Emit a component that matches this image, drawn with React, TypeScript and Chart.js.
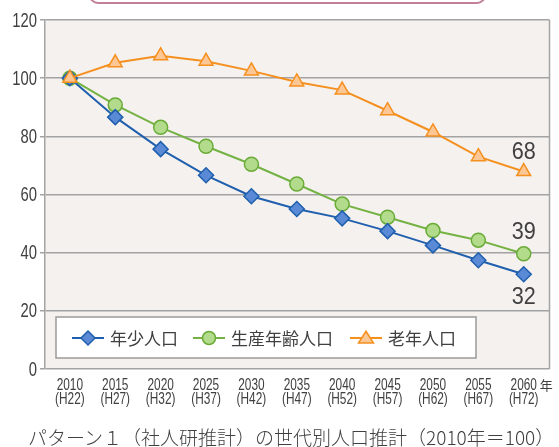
import React, { useEffect, useRef } from "react";
import { Chart, registerables } from "chart.js";

Chart.register(...registerables);

const years = [2010, 2015, 2020, 2025, 2030, 2035, 2040, 2045, 2050, 2055, 2060];
const eraLabels = ["(H22)", "(H27)", "(H32)", "(H37)", "(H42)", "(H47)", "(H52)", "(H57)", "(H62)", "(H67)", "(H72)"];
const youth = [100, 86.6, 75.6, 66.6, 59.4, 55.0, 51.8, 47.4, 42.5, 37.4, 32.6];
const working = [100, 90.8, 83.1, 76.6, 70.4, 63.6, 56.7, 52.2, 47.6, 44.3, 39.6];
const elderly = [100, 105.3, 107.7, 105.8, 102.5, 98.7, 95.9, 88.8, 81.5, 73.0, 67.9];
const yTicks = [0, 20, 40, 60, 80, 100, 120];
const seriesNames = ["年少人口", "生産年齢人口", "老年人口"];
const endLabels = ["32", "39", "68"];
const caption = "パターン１（社人研推計）の世代別人口推計（2010年＝100）";

const SANS = "'Liberation Sans', Arial, sans-serif";
const CJK = "'Noto Sans CJK JP', 'Noto Sans', sans-serif";
const TEXT = "#404040";

const COLORS = [
  { line: "#1f5fad", fill: "#5a8ad6", border: "#1f5fad", style: "rectRot", r: 7.5 },
  { line: "#74b243", fill: "#b3db8c", border: "#6aab38", style: "circle", r: 7 },
  { line: "#f5901f", fill: "#fcc795", border: "#f5901f", style: "triangle", r: 8 },
];

function narrowText(ctx: CanvasRenderingContext2D, text: string, x: number, y: number, size: number, sx: number, align: CanvasTextAlign) {
  ctx.save();
  ctx.translate(x, y);
  ctx.scale(sx, 1);
  ctx.font = `${size}px ${SANS}`;
  ctx.textAlign = align;
  ctx.textBaseline = "middle";
  ctx.fillStyle = TEXT;
  ctx.fillText(text, 0, 0);
  ctx.restore();
}

function drawMarker(ctx: CanvasRenderingContext2D, style: string, x: number, y: number, r: number, fill: string, border: string) {
  ctx.save();
  ctx.beginPath();
  if (style === "rectRot") {
    ctx.moveTo(x, y - r);
    ctx.lineTo(x + r, y);
    ctx.lineTo(x, y + r);
    ctx.lineTo(x - r, y);
    ctx.closePath();
  } else if (style === "circle") {
    ctx.arc(x, y, r, 0, Math.PI * 2);
  } else {
    const h = r * 1.5;
    ctx.moveTo(x, y - h * 0.6);
    ctx.lineTo(x + r, y + h * 0.45);
    ctx.lineTo(x - r, y + h * 0.45);
    ctx.closePath();
  }
  ctx.fillStyle = fill;
  ctx.fill();
  ctx.lineWidth = 1.5;
  ctx.strokeStyle = border;
  ctx.stroke();
  ctx.restore();
}

const decorPlugin = {
  id: "decor",
  beforeDraw(chart: any) {
    const { ctx, chartArea: a } = chart;
    ctx.save();
    ctx.fillStyle = "#f4f1ee";
    ctx.fillRect(a.left, a.top, a.right - a.left, a.bottom - a.top);
    ctx.restore();
  },
  beforeDatasetsDraw(chart: any) {
    const { ctx, chartArea: a } = chart;
    ctx.save();
    ctx.strokeStyle = "#a3a3a3";
    ctx.lineWidth = 1.5;
    ctx.beginPath();
    ctx.moveTo(a.right, a.top);
    ctx.lineTo(a.right, a.bottom);
    ctx.stroke();
    ctx.restore();
  },
  afterDatasetsDraw(chart: any) {
    const { ctx, chartArea: a } = chart;
    const xs = chart.scales.x;
    const ys = chart.scales.y;
    ctx.save();
    // y tick labels
    yTicks.forEach((v) => {
      narrowText(ctx, String(v), a.left - 8, ys.getPixelForValue(v) + 1, 20, 0.74, "right");
    });
    // x tick labels
    years.forEach((yr, i) => {
      const px = xs.getPixelForValue(yr);
      narrowText(ctx, String(yr), px, 386, 16, 0.74, "center");
      narrowText(ctx, eraLabels[i], px, 399.5, 16, 0.74, "center");
    });
    // legend box
    const lx = 56, ly = 317, lw = 420, lh = 41;
    ctx.fillStyle = "#ffffff";
    ctx.fillRect(lx, ly, lw, lh);
    ctx.strokeStyle = "#9a9a9a";
    ctx.lineWidth = 1.5;
    ctx.strokeRect(lx, ly, lw, lh);
    const itemX = [72, 193, 350];
    const cy = ly + lh / 2 + 0.5;
    ctx.font = `17px ${CJK}`;
    ctx.textBaseline = "middle";
    ctx.textAlign = "left";
    seriesNames.forEach((name, i) => {
      const c = COLORS[i];
      ctx.strokeStyle = c.line;
      ctx.lineWidth = 2;
      ctx.beginPath();
      ctx.moveTo(itemX[i], cy);
      ctx.lineTo(itemX[i] + 32, cy);
      ctx.stroke();
      drawMarker(ctx, c.style, itemX[i] + 16, cy, c.r - 0.5, c.fill, c.border);
      ctx.fillStyle = TEXT;
      ctx.fillText(name, itemX[i] + 38, cy + 1);
    });
    // end labels
    const last = years[years.length - 1];
    const px = xs.getPixelForValue(last);
    const series = [youth, working, elderly];
    const offsets = [23, -21, -19];
    series.forEach((s, i) => {
      const py = ys.getPixelForValue(s[s.length - 1]);
      narrowText(ctx, endLabels[i], px, py + offsets[i], 24, 0.9, "center");
    });
    // 年 after last x label
    ctx.font = `13px ${CJK}`;
    ctx.textAlign = "left";
    ctx.textBaseline = "middle";
    ctx.fillStyle = TEXT;
    ctx.fillText("年", px + 16, 385);
    ctx.restore();
  },
};

export default function App() {
  const ref = useRef<HTMLCanvasElement>(null);
  useEffect(() => {
    if (!ref.current) return;
    const mk = (data: number[], i: number) => ({
      label: seriesNames[i],
      data: years.map((y, k) => ({ x: y, y: data[k] })),
      borderColor: COLORS[i].line,
      borderWidth: 2,
      pointStyle: COLORS[i].style,
      pointRadius: COLORS[i].r,
      pointBackgroundColor: COLORS[i].fill,
      pointBorderColor: COLORS[i].border,
      pointBorderWidth: 1.5,
      tension: 0,
      fill: false,
    });
    const chart = new Chart(ref.current, {
      type: "line",
      data: {
        datasets: [mk(elderly, 2), mk(youth, 0), mk(working, 1)],
      },
      plugins: [decorPlugin],
      options: {
        responsive: false,
        animation: false,
        devicePixelRatio: 1,
        layout: { padding: { top: 20, right: 6, left: 0, bottom: 0 } },
        plugins: { legend: { display: false }, tooltip: { enabled: false } },
        scales: {
          x: {
            type: "linear",
            min: 2007.26,
            max: 2062.84,
            afterBuildTicks: (s: any) => {
              s.ticks = years.map((v) => ({ value: v }));
            },
            afterFit: (s: any) => {
              s.height = 78;
            },
            grid: { display: false, drawTicks: false },
            border: { display: false },
            ticks: { display: false },
          },
          y: {
            min: 0,
            max: 120,
            afterBuildTicks: (s: any) => {
              s.ticks = yTicks.map((v) => ({ value: v }));
            },
            afterFit: (s: any) => {
              s.width = 45;
            },
            grid: { color: "#a3a3a3", lineWidth: 1.5, tickLength: 5, drawTicks: true },
            border: { display: true, color: "#a3a3a3", width: 1.5 },
            ticks: { display: false },
          },
        },
      },
    } as any);
    return () => chart.destroy();
  }, []);
  return (
    <div style={{ position: "fixed", left: 0, top: 0, width: 559, height: 447, background: "#ffffff", overflow: "hidden" }}>
      <div
        style={{
          position: "absolute",
          left: 89,
          top: -20,
          width: 393,
          height: 20,
          border: "2px solid #c27f99",
          borderRadius: 9,
          background: "#ffffff",
        }}
      />
      <canvas ref={ref} width={559} height={447} style={{ position: "absolute", left: 0, top: 0 }} />
      <div
        style={{
          position: "absolute",
          left: 28,
          top: 426,
          fontFamily: CJK,
          fontSize: 19,
          fontWeight: 300,
          color: TEXT,
          whiteSpace: "nowrap",
          lineHeight: "22px",
        }}
      >
        {caption}
      </div>
    </div>
  );
}
